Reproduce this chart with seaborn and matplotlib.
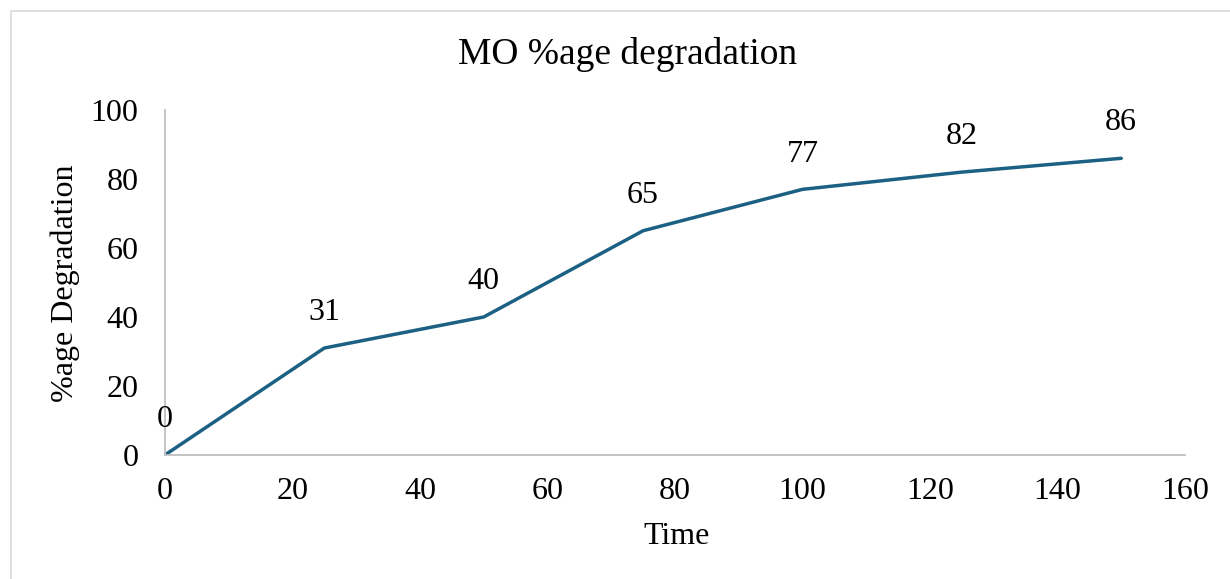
import numpy as np
import pandas as pd
import matplotlib
matplotlib.use("Agg")
import matplotlib.pyplot as plt
import seaborn as sns

# ── Data ─────────────────────────────────────────────────────────────────────
time = [0, 25, 50, 75, 100, 125, 150]
degradation = [0, 31, 40, 65, 77, 82, 86]
x_ticks = [0, 20, 40, 60, 80, 100, 120, 140, 160]
y_ticks = [0, 20, 40, 60, 80, 100]

df = pd.DataFrame({"Time": time, "Degradation": degradation})

sns.set_theme(style="white")
plt.rcParams["font.family"] = ["Liberation Serif", "DejaVu Serif"]
plt.rcParams["text.color"] = "black"

LINE = "#1c6183"
AXIS = "#bfbfbf"
FS = 23

fig = plt.figure(figsize=(12.3, 5.79), dpi=100)
ax = fig.add_axes([0.1341, 0.2142, 0.8293, 0.5958])

sns.lineplot(data=df, x="Time", y="Degradation", ax=ax, color=LINE, linewidth=2.5)

for t, d in zip(time, degradation):
    ax.annotate(f"{d}", (t, d), xytext=(0, 15), textcoords="offset points",
                ha="center", va="bottom", fontsize=FS, color="black")

ax.set_xlim(0, 160)
ax.set_ylim(0, 100)
ax.set_xticks(x_ticks)
ax.set_yticks(y_ticks)
ax.tick_params(axis="both", length=0, labelsize=FS, colors="black")
ax.tick_params(axis="x", pad=16)
ax.tick_params(axis="y", pad=19)

for side in ["top", "right"]:
    ax.spines[side].set_visible(False)
for side in ["left", "bottom"]:
    ax.spines[side].set_color(AXIS)
    ax.spines[side].set_linewidth(1.3)

ax.set_xlabel("")
ax.set_ylabel("")
fig.text(677 / 1230, 1 - 537 / 579, "Time", ha="center", va="center", fontsize=FS, color="black")
fig.text(65 / 1230, 1 - 283 / 579, "%age Degradation", ha="center", va="center",
         rotation=90, fontsize=FS, color="black")
fig.text(628 / 1230, 1 - 55 / 579, "MO %age degradation", ha="center", va="center",
         fontsize=27, color="black")

# outer chart border (Excel style)
fig.patches.append(plt.Rectangle((11 / 1230, -0.01), 1.1, 1 - 11 / 579 + 0.01,
                                 transform=fig.transFigure, fill=False,
                                 edgecolor="#d9d9d9", linewidth=1.2))

plt.savefig("out.png", dpi=100)
plt.close()
